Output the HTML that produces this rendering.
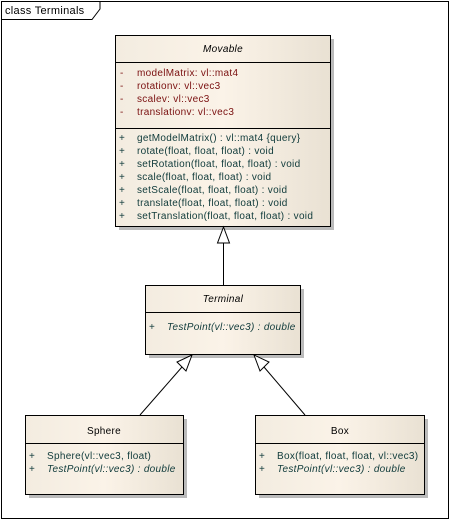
<!DOCTYPE html>
<html><head><style>
html,body{margin:0;padding:0;background:#fff}
svg{display:block}
text{font-family:"Liberation Sans",sans-serif;font-size:10px;letter-spacing:0.3px;}
</style></head><body>
<svg width="450" height="520" viewBox="0 0 450 520" xmlns="http://www.w3.org/2000/svg">
<defs>
<linearGradient id="g" x1="0" y1="0" x2="1" y2="0">
<stop offset="0" stop-color="#f3ece0"/><stop offset="0.5" stop-color="#fbf3e8"/><stop offset="1" stop-color="#e9e1d3"/>
</linearGradient>
</defs>
<rect x="1.5" y="1.5" width="447" height="517" fill="#fff" stroke="#000"/>
<path d="M1.5 19.5 H92 L100 9 V1.5" fill="none" stroke="#000"/>
<text x="5" y="14" style="font-size:11px;letter-spacing:0.3px" fill="#000">class Terminals</text>

<rect x="119" y="39" width="215" height="191" fill="#bbb"/>
<rect x="149" y="289" width="155" height="69" fill="#bbb"/>
<rect x="29" y="419" width="158" height="79" fill="#bbb"/>
<rect x="259" y="419" width="169" height="79" fill="#bbb"/>

<rect x="115.5" y="35.5" width="215" height="191" fill="url(#g)" stroke="#000"/>
<line x1="115.5" y1="62.5" x2="330.5" y2="62.5" stroke="#000"/>
<line x1="115.5" y1="128.5" x2="330.5" y2="128.5" stroke="#000"/>
<text x="223" y="52" text-anchor="middle" font-style="italic">Movable</text>
<g fill="#7a1010">
<text x="120" y="76">-</text><text x="137" y="76">modelMatrix:  vl::mat4</text>
<text x="120" y="89">-</text><text x="137" y="89">rotationv:  vl::vec3</text>
<text x="120" y="102">-</text><text x="137" y="102">scalev:  vl::vec3</text>
<text x="120" y="115">-</text><text x="137" y="115">translationv:  vl::vec3</text>
</g>
<g fill="#0f3a3a">
<text x="119" y="141">+</text><text x="137" y="141">getModelMatrix() : vl::mat4 {query}</text>
<text x="119" y="154">+</text><text x="137" y="154">rotate(float, float, float) : void</text>
<text x="119" y="167">+</text><text x="137" y="167">setRotation(float, float, float) : void</text>
<text x="119" y="180">+</text><text x="137" y="180">scale(float, float, float) : void</text>
<text x="119" y="193">+</text><text x="137" y="193">setScale(float, float, float) : void</text>
<text x="119" y="206">+</text><text x="137" y="206">translate(float, float, float) : void</text>
<text x="119" y="219">+</text><text x="137" y="219">setTranslation(float, float, float) : void</text>
</g>

<rect x="145.5" y="285.5" width="155" height="69" fill="url(#g)" stroke="#000"/>
<line x1="145.5" y1="312.5" x2="300.5" y2="312.5" stroke="#000"/>
<text x="223" y="302" text-anchor="middle" font-style="italic">Terminal</text>
<g fill="#0f3a3a"><text x="149" y="330">+</text><text x="167" y="330" font-style="italic">TestPoint(vl::vec3) : double</text></g>

<rect x="25.5" y="415.5" width="158" height="79" fill="url(#g)" stroke="#000"/>
<line x1="25.5" y1="443.5" x2="183.5" y2="443.5" stroke="#000"/>
<text x="104" y="434" text-anchor="middle">Sphere</text>
<g fill="#0f3a3a">
<text x="29" y="459">+</text><text x="47" y="459">Sphere(vl::vec3, float)</text>
<text x="29" y="472">+</text><text x="47" y="472" font-style="italic">TestPoint(vl::vec3) : double</text>
</g>

<rect x="255.5" y="415.5" width="169" height="79" fill="url(#g)" stroke="#000"/>
<line x1="255.5" y1="443.5" x2="424.5" y2="443.5" stroke="#000"/>
<text x="340" y="434" text-anchor="middle">Box</text>
<g fill="#0f3a3a">
<text x="259" y="459">+</text><text x="277" y="459">Box(float, float, float, vl::vec3)</text>
<text x="259" y="472">+</text><text x="277" y="472" font-style="italic">TestPoint(vl::vec3) : double</text>
</g>

<line x1="223.5" y1="243" x2="223.5" y2="285" stroke="#000"/>
<polygon points="223.5,227 217.5,243 229.5,243" fill="#fff" stroke="#000"/>
<line x1="140" y1="415" x2="182" y2="367" stroke="#000"/>
<polygon points="192,355 177,362 186,371" fill="#fff" stroke="#000"/>
<line x1="305" y1="415" x2="264" y2="367" stroke="#000"/>
<polygon points="254,355 260,371 269,362" fill="#fff" stroke="#000"/>
</svg>
</body></html>
